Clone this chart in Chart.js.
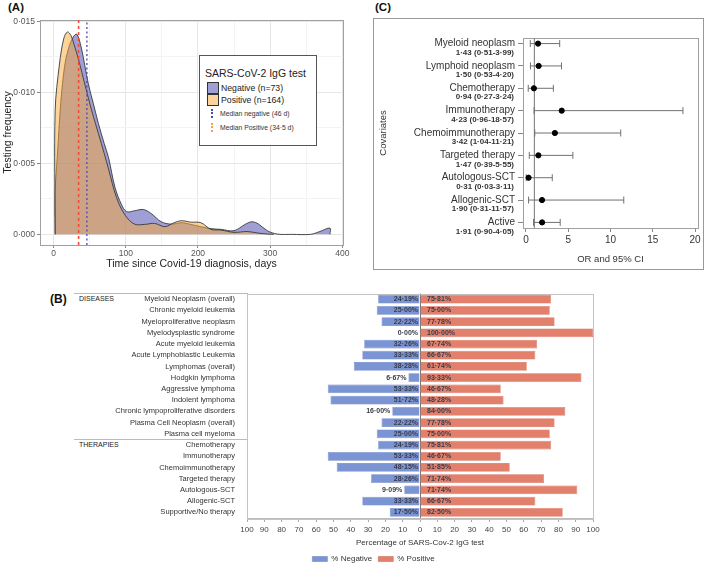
<!DOCTYPE html>
<html>
<head>
<meta charset="utf-8">
<script src="https://cdn.jsdelivr.net/npm/chart.js@4.4.1/dist/chart.umd.min.js"></script>
<style>
body{margin:0;width:709px;height:563px;position:relative;background:#fff;font-family:"Liberation Sans",Arial,sans-serif;overflow:hidden;color:#222}
.abs{position:absolute}
.tag{position:absolute;font-weight:bold;font-size:11.5px;color:#111}
#legA{position:absolute;left:199px;top:55px;width:118px;height:91px;border:1px solid #555;box-sizing:border-box;background:#fff}
#legA .t{position:absolute;left:5px;top:11px;font-size:10.5px;white-space:nowrap}
#legA .sw{position:absolute;left:7px;width:12px;height:12px;border:1px solid #333;box-sizing:border-box}
#legA .lt{position:absolute;left:21px;font-size:8.7px;white-space:nowrap}
#legA .mk{position:absolute;left:11px;width:0;height:9px;border-left-width:2px;border-left-style:dotted}
#legA .ml{position:absolute;left:20px;font-size:6.8px;white-space:nowrap;color:#333}
#boxC{position:absolute;left:373px;top:18px;width:331px;height:252px;border:1px solid #999;box-sizing:border-box}
.sec{position:absolute;left:79px;font-size:7px;color:#222}
.hl{position:absolute;left:74px;width:173px;height:0;border-top:1px solid #bbb}
</style>
</head>
<body>
<div class="tag" style="left:8px;top:1px">(A)</div>
<div class="tag" style="left:375px;top:1px">(C)</div>
<div class="tag" style="left:50px;top:292px;font-size:12px">(B)</div>

<canvas id="cA" class="abs" style="left:0;top:0" width="360" height="280"></canvas>
<div id="legA">
  <div class="t">SARS-CoV-2 IgG test</div>
  <div class="sw" style="top:26px;background:#9f9fd6"></div>
  <div class="lt" style="top:27px">Negative (n=73)</div>
  <div class="sw" style="top:38px;background:#fcd49a"></div>
  <div class="lt" style="top:39px">Positive (n=164)</div>
  <div class="mk" style="top:53px;border-left-color:#4a4ab0"></div>
  <div class="ml" style="top:54px">Median negative (46 d)</div>
  <div class="mk" style="top:67px;border-left-color:#f0a050"></div>
  <div class="ml" style="top:68px">Median Positive (34·5 d)</div>
</div>

<div id="boxC"><canvas id="cC" class="abs" style="left:0;top:0" width="329" height="250"></canvas></div>

<div class="hl" style="top:293px"></div>
<div class="hl" style="top:439px"></div>
<div class="sec" style="top:295px">DISEASES</div>
<div class="sec" style="top:441px">THERAPIES</div>
<canvas id="cB" class="abs" style="left:38px;top:285px" width="671" height="278"></canvas>

<script>
// ---- (A) density of testing time ----
const negDays = [2, 2, 5, 10, 15, 20, 27, 32, 38, 48, 55, 62, 70, 76, 85, 94, 101, 112, 124, 135, 149, 163, 177, 190, 204, 218, 232, 250, 266, 275, 284, 296, 310, 330, 356, 369, 383, 383];
const negDensity = [0, 0.0030, 0.0055, 0.0094, 0.0118, 0.0130, 0.0139, 0.0141, 0.0132, 0.0106, 0.0092, 0.0078, 0.0064, 0.0054, 0.0033, 0.0021, 0.0016, 0.00166, 0.00175, 0.00147, 0.00089, 0.00072, 0.00082, 0.0007, 0.00054, 0.0004, 0.00035, 0.00026, 0.00072, 0.00089, 0.00072, 0.00026, 0.00002, 0, 0, 0.0002, 0.00044, 0];
const posDays = [2, 2, 8, 14, 19, 24, 28, 34, 39, 48, 55, 62, 70, 76, 87, 99, 112, 126, 140, 154, 167, 177, 190, 204, 218, 232, 250, 268, 282, 296, 305];
const posDensity = [0, 0.0087, 0.0120, 0.0138, 0.01426, 0.0140, 0.0134, 0.0124, 0.0114, 0.0096, 0.0083, 0.0071, 0.0057, 0.0046, 0.0026, 0.00135, 0.00072, 0.0007, 0.00077, 0.00054, 0.00082, 0.00096, 0.00086, 0.00082, 0.00035, 0.0003, 0.00014, 0.0002, 0.0001, 0.00002, 0];
const medianNeg = 46;
const medianPos = 34.5;

// ---- (C) odds ratios ----
const orNames = ['Myeloid neoplasm', 'Lymphoid neoplasm', 'Chemotherapy', 'Immunotherapy', 'Chemoimmunotherapy', 'Targeted therapy', 'Autologous-SCT', 'Allogenic-SCT', 'Active'];
const orValue = [1.43, 1.50, 0.94, 4.23, 3.42, 1.47, 0.31, 1.90, 1.91];
const orLow = [0.51, 0.53, 0.27, 0.96, 1.04, 0.39, 0.03, 0.31, 0.90];
const orHigh = [3.99, 4.20, 3.24, 18.57, 11.21, 5.55, 3.11, 11.57, 4.05];
const orText = ['1·43 (0·51-3·99)', '1·50 (0·53-4·20)', '0·94 (0·27-3·24)', '4·23 (0·96-18·57)', '3·42 (1·04-11·21)', '1·47 (0·39-5·55)', '0·31 (0·03-3·11)', '1·90 (0·31-11·57)', '1·91 (0·90-4·05)'];

// ---- (B) percentages ----
const bCats = ['Myeloid Neoplasm (overall)', 'Chronic myeloid leukemia', 'Myeloproliferative neoplasm', 'Myelodysplastic syndrome', 'Acute myeloid leukemia', 'Acute Lymphoblastic Leukemia', 'Lymphomas (overall)', 'Hodgkin lymphoma', 'Aggressive lymphoma', 'Indolent lymphoma', 'Chronic lympoproliferative disorders', 'Plasma Cell Neoplasm (overall)', 'Plasma cell myeloma', 'Chemotherapy', 'Immunotherapy', 'Chemoimmunotherapy', 'Targeted therapy', 'Autologous-SCT', 'Allogenic-SCT', 'Supportive/No therapy'];
const bNeg = [24.19, 25.00, 22.22, 0, 32.26, 33.33, 38.26, 6.67, 53.33, 51.72, 16.00, 22.22, 25.00, 24.19, 53.33, 48.15, 28.26, 9.09, 33.33, 17.50];
const bPos = [75.81, 75.00, 77.78, 100.00, 67.74, 66.67, 61.74, 93.33, 46.67, 48.28, 84.00, 77.78, 75.00, 75.81, 46.67, 51.85, 71.74, 90.91, 66.67, 82.50];
const bNegText = ['24·19%', '25·00%', '22·22%', '0·00%', '32·26%', '33·33%', '38·28%', '6·67%', '53·33%', '51·72%', '16·00%', '22·22%', '25·00%', '24·19%', '53·33%', '48·15%', '28·26%', '9·09%', '33·33%', '17·50%'];
const bPosText = ['75·81%', '75·00%', '77·78%', '100·00%', '67·74%', '66·67%', '61·74%', '93·33%', '46·67%', '48·28%', '84·00%', '77·78%', '75·00%', '75·81%', '46·67%', '51·85%', '71·74%', '71·74%', '66·67%', '82·50%'];

const FONT = '"Liberation Sans", Arial, sans-serif';
Chart.defaults.font.family = FONT;
Chart.defaults.animation = false;

// 畫出繪圖區外框
const frame = color => ({
  id: 'frame',
  beforeDatasetsDraw(chart) {
    const a = chart.chartArea, c = chart.ctx;
    c.save();
    c.strokeStyle = color;
    c.lineWidth = 1;
    c.strokeRect(Math.round(a.left) + 0.5, Math.round(a.top) + 0.5, Math.round(a.right - a.left), Math.round(a.bottom - a.top));
    c.restore();
  }
});

const pts = (xs, ys) => xs.map((x, i) => ({ x: x, y: ys[i] }));

// ===== (A) =====
new Chart(document.getElementById('cA'), {
  type: 'line',
  data: {
    datasets: [
      { data: [{ x: medianPos, y: -0.00075 }, { x: medianPos, y: 0.0151 }], borderColor: '#e8503a', borderWidth: 1.6, borderDash: [3, 3], pointRadius: 0, fill: false, order: 0 },
      { data: [{ x: medianNeg, y: -0.00075 }, { x: medianNeg, y: 0.0151 }], borderColor: '#4a4ab0', borderWidth: 1.3, borderDash: [2, 2.5], pointRadius: 0, fill: false, order: 0 },
      { label: 'Positive (n=164)', data: pts(posDays, posDensity), borderColor: '#3a3a3a', borderWidth: 0.9, backgroundColor: 'rgba(249,169,53,0.5)', fill: 'origin', pointRadius: 0, tension: 0.35, order: 1 },
      { label: 'Negative (n=73)', data: pts(negDays, negDensity), borderColor: '#3a3a3a', borderWidth: 0.9, backgroundColor: 'rgba(63,63,173,0.5)', fill: 'origin', pointRadius: 0, tension: 0.35, order: 2 }
    ]
  },
  options: {
    responsive: false,
    layout: { padding: { top: 20, right: 17, left: 0, bottom: 0 } },
    plugins: { legend: { display: false }, tooltip: { enabled: false } },
    scales: {
      x: {
        type: 'linear', min: -19, max: 401,
        afterBuildTicks: s => { s.ticks = [0, 50, 100, 150, 200, 250, 300, 350, 400].map(v => ({ value: v })); },
        afterFit: s => { s.height = 35; },
        ticks: { color: '#555', font: { size: 8.5 }, padding: 1, maxRotation: 0, callback: v => (v % 100 === 0 ? String(v) : '') },
        grid: { color: c => (c.tick && c.tick.value % 100 === 0 ? '#e6e6e6' : '#f3f3f3'), tickColor: c => (c.tick && c.tick.value % 100 === 0 ? '#888' : 'transparent'), tickLength: 3 },
        border: { display: false },
        title: { display: true, text: 'Time since Covid-19 diagnosis, days', color: '#222', font: { size: 10.5 }, padding: { top: 0, bottom: 10 } }
      },
      y: {
        min: -0.00075, max: 0.0151,
        afterBuildTicks: s => { s.ticks = [0, 1, 2, 3, 4, 5, 6].map(k => ({ value: k * 0.0025 })); },
        afterFit: s => { s.width = 40; },
        ticks: { color: '#555', font: { size: 8.5 }, padding: 2, callback: v => { const k = Math.round(v / 0.0025); return k % 2 === 0 ? (k * 0.0025).toFixed(3).replace('.', '·') : ''; } },
        grid: { color: c => (c.tick && Math.round(c.tick.value / 0.0025) % 2 === 0 ? '#e6e6e6' : '#f3f3f3'), tickColor: c => (c.tick && Math.round(c.tick.value / 0.0025) % 2 === 0 ? '#888' : 'transparent'), tickLength: 3 },
        border: { display: false },
        title: { display: true, text: 'Testing frequency', color: '#222', font: { size: 10.5 }, padding: { top: 2, bottom: 0 } }
      }
    }
  },
  plugins: [frame('#a0a0a0')]
});

// ===== (C) =====
const ciSets = orNames.map((n, i) => ({
  type: 'scatter', showLine: true,
  data: [{ x: orLow[i], y: i }, { x: orHigh[i], y: i }],
  borderColor: '#707070', borderWidth: 1,
  pointStyle: 'line', pointRotation: 90, pointRadius: 3.5, pointBorderColor: '#707070', pointBorderWidth: 1, order: 2
}));
new Chart(document.getElementById('cC'), {
  type: 'scatter',
  data: {
    datasets: [
      { data: orValue.map((v, i) => ({ x: v, y: i })), pointStyle: 'circle', pointRadius: 2.6, backgroundColor: '#000', borderColor: '#000', order: 0 },
      { showLine: true, data: [{ x: 1, y: -0.25 }, { x: 1, y: 8.25 }], borderColor: '#8a8a8a', borderWidth: 1.2, pointRadius: 0, order: 3 },
      ...ciSets
    ]
  },
  options: {
    responsive: false,
    layout: { padding: { top: 19, right: 3, left: 0, bottom: 0 } },
    plugins: { legend: { display: false }, tooltip: { enabled: false } },
    scales: {
      x: {
        type: 'linear', min: -0.35, max: 20.35,
        afterBuildTicks: s => { s.ticks = [0, 5, 10, 15, 20].map(v => ({ value: v })); },
        afterFit: s => { s.height = 41; },
        ticks: { color: '#333', font: { size: 10 }, padding: 2 },
        grid: { drawOnChartArea: false, tickLength: 4, tickColor: '#888' },
        border: { display: false },
        title: { display: true, text: 'OR and 95% CI', color: '#333', font: { size: 9.5 }, padding: { top: 0, bottom: 4 } }
      },
      y: {
        type: 'linear', reverse: true, min: -0.25, max: 8.25,
        afterBuildTicks: s => { s.ticks = orNames.map((n, i) => ({ value: i })); },
        afterFit: s => { s.width = 149; },
        ticks: { color: '#333', font: { size: 10 }, padding: 3, callback: v => orNames[v] },
        grid: { drawOnChartArea: false, tickLength: 5, tickColor: '#888' },
        border: { display: false },
        title: { display: true, text: 'Covariates', color: '#333', font: { size: 9.5 }, padding: { top: 4, bottom: 0 } }
      }
    }
  },
  plugins: [frame('#a0a0a0'), {
    id: 'orText',
    afterDraw(chart) {
      const c = chart.ctx, ys = chart.scales.y, a = chart.chartArea;
      c.save();
      c.font = 'bold 8px ' + FONT;
      c.fillStyle = '#333';
      c.textAlign = 'right';
      c.textBaseline = 'middle';
      orText.forEach((t, i) => c.fillText(t, a.left - 9, ys.getPixelForValue(i) + 9));
      c.restore();
    }
  }]
});

// ===== (B) =====
new Chart(document.getElementById('cB'), {
  type: 'bar',
  data: {
    labels: bCats,
    datasets: [
      { label: '% Negative', data: bNeg.map(v => -v), backgroundColor: '#7b94d3', borderColor: '#6c84c2', borderWidth: 0.6, barPercentage: 0.78, categoryPercentage: 1 },
      { label: '% Positive', data: bPos, backgroundColor: '#e3806c', borderColor: '#cf6f5c', borderWidth: 0.6, barPercentage: 0.78, categoryPercentage: 1 }
    ]
  },
  options: {
    indexAxis: 'y',
    responsive: false,
    layout: { padding: { top: 8, right: 0, left: 0, bottom: -10 } },
    plugins: {
      tooltip: { enabled: false },
      legend: {
        position: 'bottom',
        labels: { boxWidth: 15, boxHeight: 5, color: '#333', font: { size: 8 }, padding: 6 }
      }
    },
    scales: {
      x: {
        stacked: true, min: -100, max: 100,
        afterBuildTicks: s => { const t = []; for (let v = -100; v <= 100; v += 10) t.push({ value: v }); s.ticks = t; },
        afterFit: s => { s.height = 31; },
        ticks: { color: '#444', font: { size: 8 }, padding: 3, maxRotation: 0, callback: v => String(Math.abs(v)) },
        grid: { color: c => (c.tick && c.tick.value === 0 ? '#777' : 'transparent'), tickColor: '#aaa', tickLength: 4 },
        border: { color: '#bbb' },
        title: { display: true, text: 'Percentage of SARS-Cov-2 IgG test', color: '#333', font: { size: 8 }, padding: { top: 0, bottom: 1 } }
      },
      y: {
        stacked: true,
        afterFit: s => { s.width = 209; },
        ticks: { color: '#333', font: { size: 7.5 }, padding: 4, autoSkip: false },
        grid: { display: false },
        border: { color: '#bbb' }
      },
      // 右側留白用的空軸，讓圖例置中於整個畫布
      yRight: {
        type: 'category', position: 'right', labels: bCats,
        afterFit: s => { s.width = 116; },
        ticks: { display: false },
        grid: { display: false },
        border: { display: false }
      }
    }
  },
  plugins: [frame('#c4c4c4'), {
    id: 'barText',
    afterDatasetsDraw(chart) {
      const c = chart.ctx, xs = chart.scales.x;
      const zero = xs.getPixelForValue(0);
      const negBars = chart.getDatasetMeta(0).data;
      const posBars = chart.getDatasetMeta(1).data;
      c.save();
      c.font = 'bold 7px ' + FONT;
      c.fillStyle = '#3a3a48';
      c.textBaseline = 'middle';
      bCats.forEach((n, i) => {
        const y = posBars[i].y;
        const w = c.measureText(bNegText[i]).width;
        const barW = zero - negBars[i].x;
        c.textAlign = 'right';
        const xr = (bNeg[i] > 0 && barW < w + 4) ? negBars[i].x - 2 : zero - 2;
        c.fillText(bNegText[i], xr, y);
        c.textAlign = 'left';
        c.fillText(bPosText[i], zero + 7, y);
      });
      c.restore();
    }
  }]
});
</script>
</body>
</html>
